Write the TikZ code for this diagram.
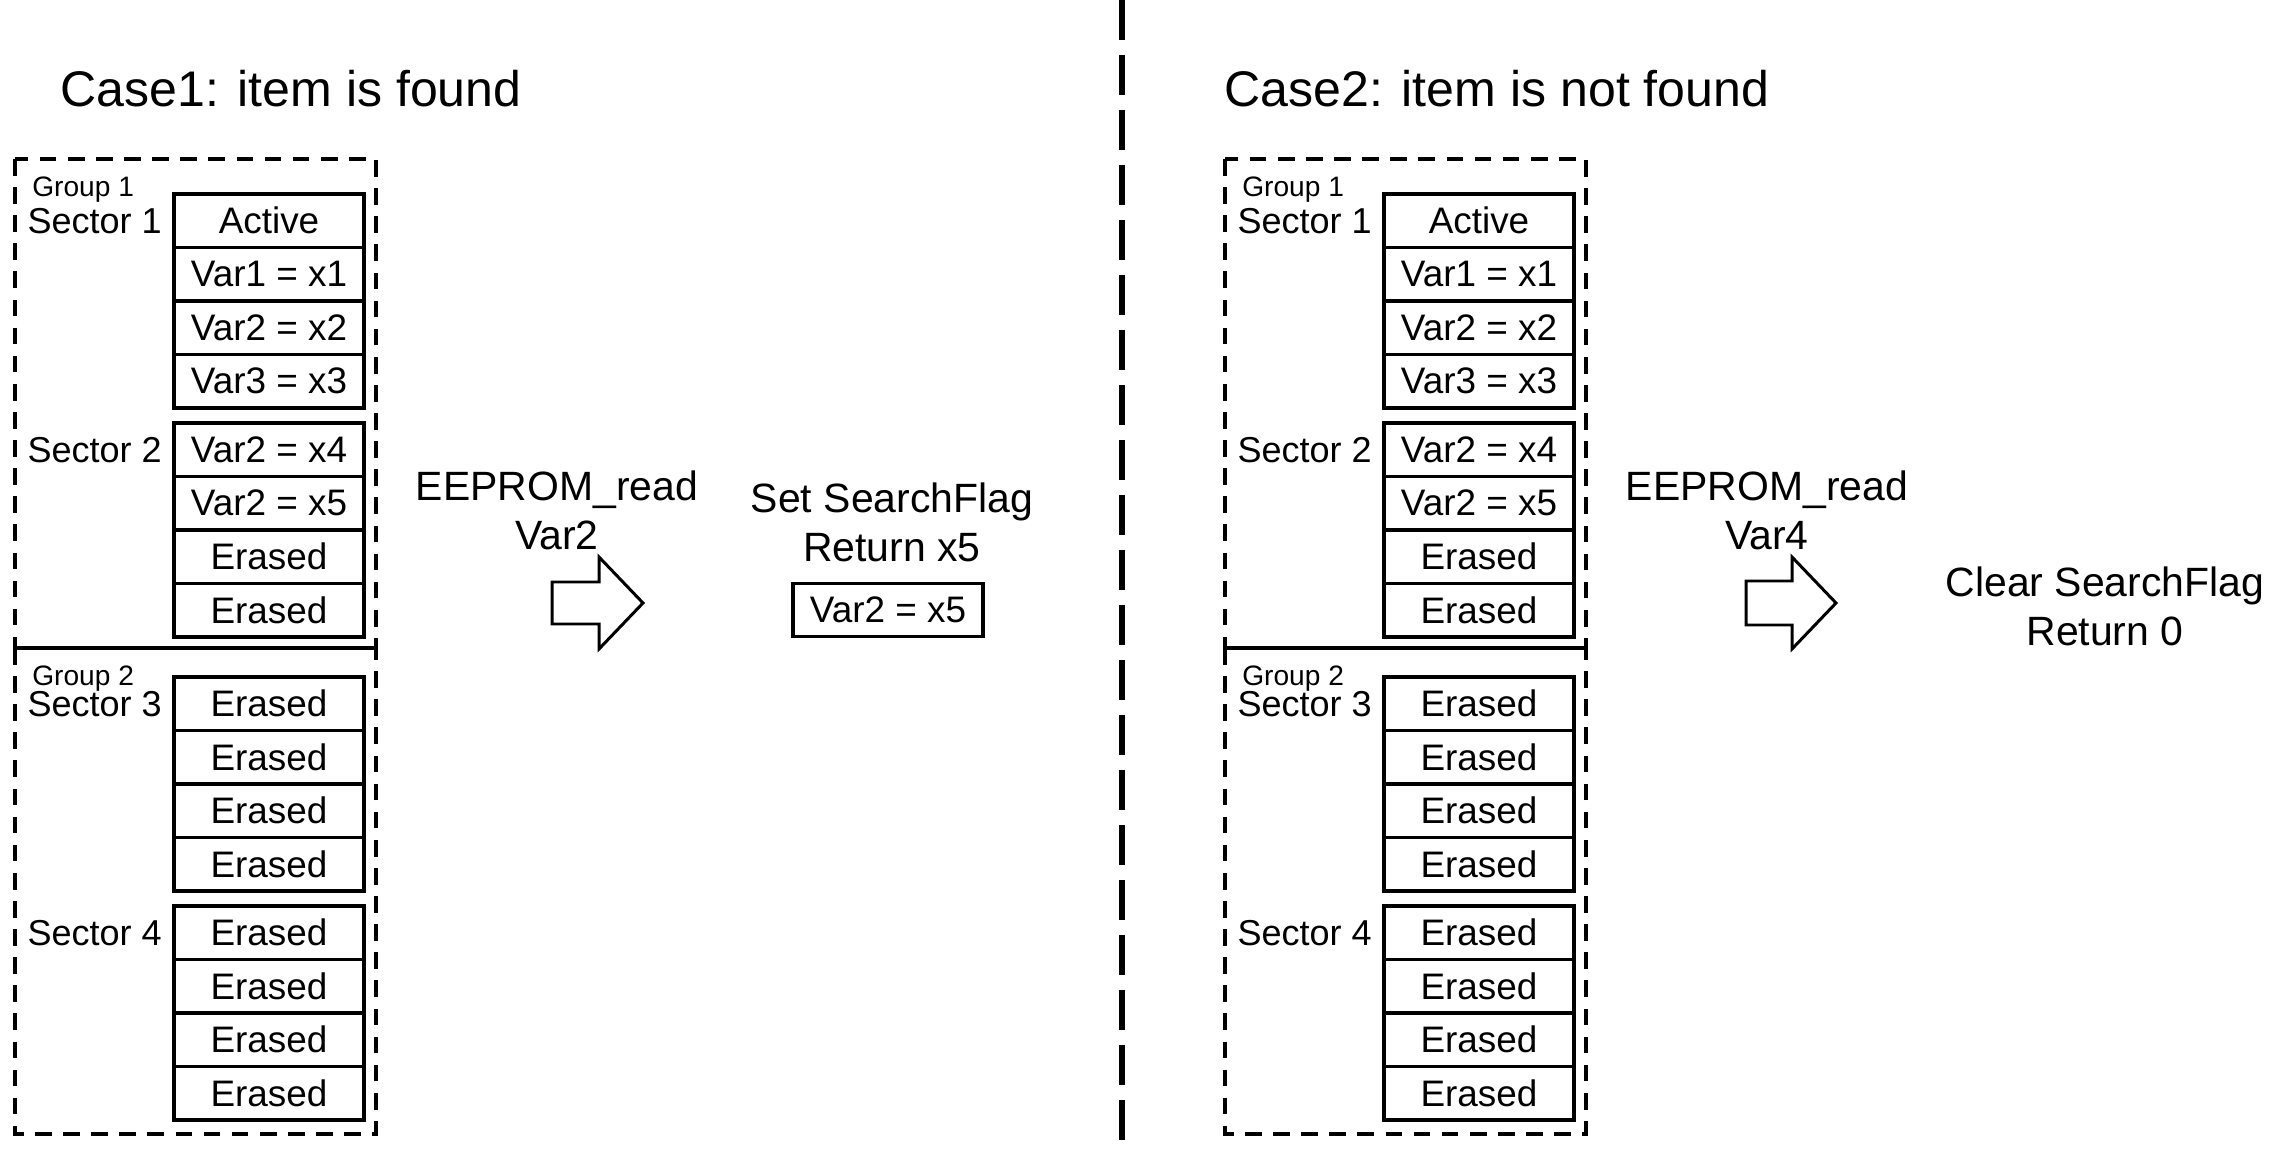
\documentclass[tikz,border=0pt]{standalone}
\usepackage{fontspec}
\setmainfont{Liberation Sans}
\usetikzlibrary{positioning, calc}

\begin{document}
\begin{tikzpicture}[
  x=0.02cm, y=-0.02cm,
  cell/.style={
    rectangle, draw, line width=1.9pt,
    minimum width=3.8cm, minimum height=1.07cm,
    inner sep=0pt, outer sep=0pt,
    font=\fontsize{21}{25}\selectfont
  },
  secframe/.style={line width=2.3pt},
  seclabel/.style={inner sep=0pt, font=\fontsize{20.5}{24}\selectfont},
  grplabel/.style={inner sep=0pt, font=\fontsize{16}{19}\selectfont},
  grpbox/.style={line width=2pt, dash pattern=on 9.5pt off 6.5pt},
  casetitle/.style={inner sep=0pt, font=\fontsize{28.5}{34}\selectfont},
  optext/.style={align=center, inner sep=0pt, font=\fontsize{23.3}{27.9}\selectfont},
  bigarrow/.style={line width=1.7pt, fill=white},
  divline/.style={line width=2.9pt, dash pattern=on 22.8pt off 8.5pt},
]
\useasboundingbox (0,0) rectangle (2294,1158);

% Titles
\node[casetitle] (caseL) at (291,89) {Case1: item is found};
\node[casetitle] (caseR) at (1497,89) {Case2: item is not found};

% Divider
\coordinate (dtop) at (1122,0);
\coordinate (dbot) at (1122,1140);
\draw[divline] (dtop) -- (dbot);

% Both panels: groups and sectors
\foreach \sx/\pn in {0/L, 1210/R} {
  \begin{scope}[shift={(\sx,0)}]
    \draw[grpbox] (15,159) rectangle (376,648);
    \draw[grpbox] (15,648) rectangle (376,1134);
    \draw[secframe] (15,648) -- (376,648);
    \node[grplabel, anchor=west] (\pn-g1) at (32,190) {Group 1};
    \node[grplabel, anchor=west] (\pn-g2) at (32,679) {Group 2};
    \foreach \s/\ty/\ra/\rb/\rc/\rd in {
      1/194/Active/Var1 = x1/Var2 = x2/Var3 = x3,
      2/423/Var2 = x4/Var2 = x5/Erased/Erased,
      3/677/Erased/Erased/Erased/Erased,
      4/906/Erased/Erased/Erased/Erased} {
      \node[cell, anchor=north] (\pn-s\s-a) at (269,\ty) {\ra};
      \node[cell, below=0pt of \pn-s\s-a] (\pn-s\s-b) {\rb};
      \node[cell, below=0pt of \pn-s\s-b] (\pn-s\s-c) {\rc};
      \node[cell, below=0pt of \pn-s\s-c] (\pn-s\s-d) {\rd};
      \draw[secframe] (\pn-s\s-a.north west) rectangle (\pn-s\s-d.south east);
      \node[seclabel, left=6.8pt of \pn-s\s-a] (\pn-lab\s) {Sector \s};
    }
  \end{scope}
}

% Case 1: read and result
\node[optext] (readL) at (557,510) {EEPROM\_read\\Var2};
\draw[bigarrow, shift={(552,603)}]
  (0,-21) -- (47,-21) -- (47,-46) -- (91,0) -- (47,46) -- (47,21) -- (0,21) -- cycle;
\node[optext] (flagL) at (892,522) {Set SearchFlag\\Return x5};
\node[cell] (resL) at (888,610) {Var2 = x5};

% Case 2: read and result
\node[optext] (readR) at (1767,510) {EEPROM\_read\\Var4};
\draw[bigarrow, shift={(1746,603)}]
  (0,-22) -- (46,-22) -- (46,-46) -- (90,0) -- (46,46) -- (46,22) -- (0,22) -- cycle;
\node[optext] (flagR) at (2105,606) {Clear SearchFlag\\Return 0};
\end{tikzpicture}
\end{document}
